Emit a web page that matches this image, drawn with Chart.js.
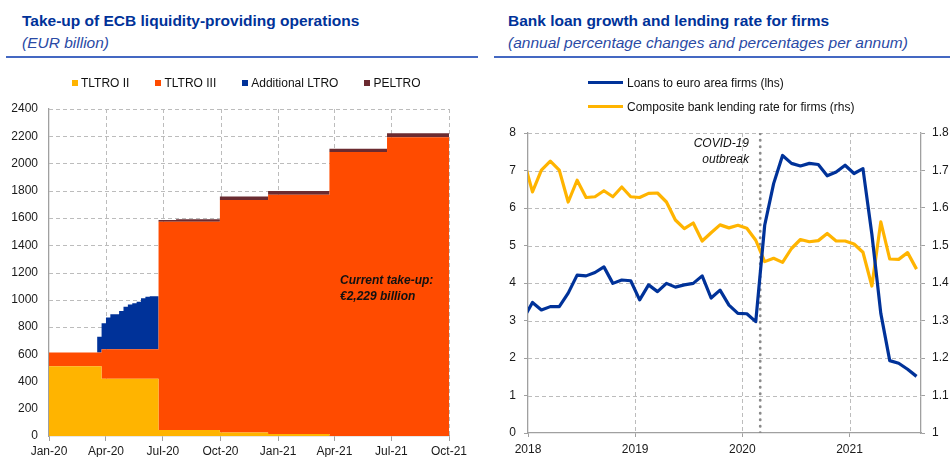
<!DOCTYPE html>
<html><head><meta charset="utf-8">
<script src="https://cdn.jsdelivr.net/npm/chart.js@4.4.1/dist/chart.umd.min.js"></script>
<style>
html,body{margin:0;padding:0;background:#fff}
body{position:relative;width:950px;height:457px;overflow:hidden;font-family:"Liberation Sans",Arial,Helvetica,sans-serif}
.abs{position:absolute;white-space:nowrap}
.title{font-weight:bold;font-size:15.5px;line-height:18px;color:#003299}
.sub{font-style:italic;font-size:15.5px;line-height:18px;color:#2a4aa5}
.rule{position:absolute;height:2px;background:#4468c2}
.lg{font-size:12px;line-height:14px;color:#111}
.sq{display:inline-block;width:6px;height:6px;margin-right:3px;vertical-align:1px}
.ln{display:inline-block;width:35px;height:3px;margin-right:4px;vertical-align:3px}
.note{font-size:12px;line-height:16px;color:#111;font-style:italic}
canvas{position:absolute}
</style></head><body>
<div class="abs title" style="left:22px;top:12px">Take-up of ECB liquidity-providing operations</div>
<div class="abs sub" style="left:22px;top:34px">(EUR billion)</div>
<div class="rule" style="left:6px;top:56px;width:472px"></div>
<div class="abs title" style="left:508px;top:12px">Bank loan growth and lending rate for firms</div>
<div class="abs sub" style="left:508px;top:34px">(annual percentage changes and percentages per annum)</div>
<div class="rule" style="left:494px;top:56px;width:456px"></div>
<canvas id="cL" width="478" height="395" style="left:0;top:62px"></canvas>
<canvas id="cR" width="472" height="395" style="left:478px;top:62px"></canvas>
<div id="legL" class="abs lg" style="left:72px;top:76px;display:flex;gap:26px"></div>
<div id="legR" class="abs lg" style="left:588px;top:76px"></div>
<div class="abs note" style="left:340px;top:272px;font-weight:bold">Current take-up:<br>€2,229 billion</div>
<div class="abs note" style="right:201px;top:135px;text-align:right">COVID-19<br>outbreak</div>
<script>
// ---------- Left chart data (EUR billion, outstanding after each settlement date) ----------
const stepDates = ['2020-01-01','2020-03-18','2020-03-25','2020-04-01','2020-04-08','2020-04-22','2020-04-29',
  '2020-05-06','2020-05-13','2020-05-20','2020-05-27','2020-06-03','2020-06-10','2020-06-24','2020-07-22',
  '2020-09-30','2020-12-16','2021-03-24','2021-06-24','2021-10-01'];
const tltroII  = [512,512,420,420,420,420,420,420,420,420,420,420,420,44,44,25,15,0,0,0];
const tltroIII = [100,100,216,216,216,216,216,216,216,216,216,216,216,1529,1529,1707,1756,2084,2192,2192];
const addLTRO  = [0,117,191,233,257,281,313,330,338,350,375,386,389,0,0,0,0,0,0,0];
const peltro   = [0,0,0,0,0,0,0,0,0,0,0,0,0,12,17,25,27,25,30,30];
const leftNames = ['TLTRO II','TLTRO III','Additional LTRO','PELTRO'];
const leftColors = ['#ffb400','#ff4b00','#003299','#6b2b30'];
const quarterDates = ['2020-01-01','2020-04-01','2020-07-01','2020-10-01','2021-01-01','2021-04-01','2021-07-01','2021-10-01'];
const quarterLabels = ['Jan-20','Apr-20','Jul-20','Oct-20','Jan-21','Apr-21','Jul-21','Oct-21'];
const leftYTicks = [0,200,400,600,800,1000,1200,1400,1600,1800,2000,2200,2400];

// ---------- Right chart data ----------
const months = ['2017-12',
  '2018-01','2018-02','2018-03','2018-04','2018-05','2018-06','2018-07','2018-08','2018-09','2018-10','2018-11','2018-12',
  '2019-01','2019-02','2019-03','2019-04','2019-05','2019-06','2019-07','2019-08','2019-09','2019-10','2019-11','2019-12',
  '2020-01','2020-02','2020-03','2020-04','2020-05','2020-06','2020-07','2020-08','2020-09','2020-10','2020-11','2020-12',
  '2021-01','2021-02','2021-03','2021-04','2021-05','2021-06','2021-07','2021-08'];
const loans = [3.05,
  3.48,3.28,3.37,3.37,3.73,4.21,4.19,4.28,4.43,3.99,4.08,4.06,
  3.55,3.95,3.77,3.99,3.89,3.95,3.99,4.19,3.60,3.81,3.41,3.19,
  3.18,2.97,5.54,6.65,7.40,7.19,7.12,7.19,7.16,6.86,6.96,7.14,
  6.92,7.05,5.30,3.19,1.93,1.86,1.70,1.51];
const lendingRate = [1.73,
  1.643,1.701,1.725,1.701,1.616,1.674,1.628,1.630,1.646,1.630,1.656,1.630,
  1.628,1.639,1.640,1.616,1.568,1.545,1.560,1.512,1.534,1.555,1.547,1.554,
  1.546,1.514,1.457,1.466,1.455,1.492,1.516,1.510,1.513,1.532,1.512,1.512,
  1.504,1.482,1.392,1.563,1.464,1.463,1.481,1.437];
const rightNames = ['Loans to euro area firms (lhs)','Composite bank lending rate for firms (rhs)'];
const rightColors = ['#003299','#ffb400'];
const yearLabels = ['2018','2019','2020','2021'];
const axisStart = '2018-01', axisEnd = '2021-09';
const covidMonth = '2020-03';
const lhsTicks = [0,1,2,3,4,5,6,7,8];
const rhsTicks = [1.0,1.1,1.2,1.3,1.4,1.5,1.6,1.7,1.8];

// ---------- helpers ----------
const dayOf = s => (Date.parse(s) - Date.parse('2020-01-01')) / 86400000;
const monthIdx = s => { const [y,m] = s.split('-').map(Number); return (y-2018)*12 + (m-1); };
const mid = s => monthIdx(s) + 0.5;

Chart.defaults.font.family = '"Liberation Sans", Arial, sans-serif';
Chart.defaults.font.size = 12;
Chart.defaults.color = '#1a1a1a';

const GRID = '#bcbcbc', AXIS = '#a0a0a0', DASH = [4,3];

// dashed grid lines drawn at the scales' own tick positions
const dashGrid = {
  id: 'dashGrid',
  beforeDatasetsDraw(chart, args, opts) {
    const {ctx, chartArea: a} = chart;
    ctx.save();
    ctx.strokeStyle = opts.color; ctx.lineWidth = 1; ctx.setLineDash(opts.dash);
    (opts.axes || []).forEach(id => {
      const s = chart.scales[id];
      s.ticks.forEach(t => {
        if (t.value === s.min) return; // axis line already there
        const p = Math.round(s.getPixelForValue(t.value)) + 0.5;
        ctx.beginPath();
        if (s.isHorizontal()) { ctx.moveTo(p, a.top); ctx.lineTo(p, a.bottom); }
        else { ctx.moveTo(a.left, p); ctx.lineTo(a.right, p); }
        ctx.stroke();
      });
    });
    ctx.restore();
  }
};

// ---------- Left chart ----------
const leftSeries = [tltroII, tltroIII, addLTRO, peltro];
new Chart(document.getElementById('cL'), {
  type: 'line',
  plugins: [dashGrid],
  data: {
    datasets: leftSeries.map((arr, k) => ({
      label: leftNames[k],
      data: stepDates.map((d, i) => ({x: dayOf(d), y: arr[i]})),
      backgroundColor: leftColors[k], borderColor: leftColors[k], borderWidth: 0,
      fill: k === 0 ? 'origin' : '-1', stepped: true, pointRadius: 0
    }))
  },
  options: {
    responsive: false, animation: false,
    layout: {padding: {top: 47, right: 29, left: 0, bottom: 0}},
    plugins: {legend: {display: false}, tooltip: {enabled: false},
              dashGrid: {axes: ['x', 'y'], color: GRID, dash: DASH}},
    scales: {
      x: {
        type: 'linear', min: dayOf(quarterDates[0]), max: dayOf(quarterDates[quarterDates.length-1]),
        afterBuildTicks: s => { s.ticks = quarterDates.map(d => ({value: dayOf(d)})); },
        ticks: {callback: (v, i) => quarterLabels[i], autoSkip: false, maxRotation: 0, padding: 3},
        grid: {drawOnChartArea: false, tickColor: AXIS, tickLength: 5},
        border: {color: AXIS, width: 1.3},
        afterFit: s => { s.height = 21; }
      },
      y: {
        stacked: true, min: 0, max: 2400,
        afterBuildTicks: s => { s.ticks = leftYTicks.map(v => ({value: v})); },
        ticks: {padding: 11, callback: v => String(v)},
        grid: {drawOnChartArea: false, drawTicks: false},
        border: {color: AXIS, width: 1.3},
        afterFit: s => { s.width = 49; }
      }
    }
  }
});

// ---------- Right chart ----------
new Chart(document.getElementById('cR'), {
  type: 'line',
  plugins: [dashGrid],
  data: {
    datasets: [
      {label: rightNames[0], data: months.map((m, i) => ({x: mid(m), y: loans[i]})), yAxisID: 'y',
       borderColor: rightColors[0], backgroundColor: rightColors[0], borderWidth: 3.2, pointRadius: 0,
       borderJoinStyle: 'round', clip: 0},
      {label: rightNames[1], data: months.map((m, i) => ({x: mid(m), y: lendingRate[i]})), yAxisID: 'y1',
       borderColor: rightColors[1], backgroundColor: rightColors[1], borderWidth: 3.2, pointRadius: 0,
       borderJoinStyle: 'round', clip: 0},
      {label: 'COVID-19 outbreak', data: [{x: monthIdx(covidMonth), y: lhsTicks[0]}, {x: monthIdx(covidMonth), y: lhsTicks[lhsTicks.length-1]}],
       yAxisID: 'y', borderColor: '#8a8a8a', borderWidth: 2.7, borderDash: [0.5, 6], borderCapStyle: 'round', pointRadius: 0}
    ]
  },
  options: {
    responsive: false, animation: false,
    layout: {padding: {top: 71, right: 0, left: 0, bottom: 0}},
    plugins: {legend: {display: false}, tooltip: {enabled: false},
              dashGrid: {axes: ['x', 'y'], color: GRID, dash: DASH}},
    scales: {
      x: {
        type: 'linear', min: monthIdx(axisStart), max: monthIdx(axisEnd),
        afterBuildTicks: s => { s.ticks = yearLabels.map(y => ({value: monthIdx(y + '-01')})); },
        ticks: {callback: (v, i) => yearLabels[i], autoSkip: false, maxRotation: 0, padding: 5},
        grid: {drawOnChartArea: false, tickColor: AXIS, tickLength: 4},
        border: {color: AXIS, width: 1.3},
        afterFit: s => { s.height = 24; }
      },
      y: {
        position: 'left', min: lhsTicks[0], max: lhsTicks[lhsTicks.length-1],
        afterBuildTicks: s => { s.ticks = lhsTicks.map(v => ({value: v})); },
        ticks: {padding: 8},
        grid: {drawOnChartArea: false, tickColor: AXIS, tickLength: 4},
        border: {color: AXIS, width: 1.3},
        afterFit: s => { s.width = 50; }
      },
      y1: {
        position: 'right', min: rhsTicks[0], max: rhsTicks[rhsTicks.length-1],
        afterBuildTicks: s => { s.ticks = rhsTicks.map(v => ({value: v})); },
        ticks: {padding: 7, callback: v => String(Number(v.toFixed(1)))},
        grid: {drawOnChartArea: false, tickColor: AXIS, tickLength: 4},
        border: {color: AXIS, width: 1.3},
        afterFit: s => { s.width = 29; }
      }
    }
  }
});

// ---------- Legends (HTML, built from the series names/colours) ----------
const legL = document.getElementById('legL');
leftNames.forEach((n, k) => {
  const it = document.createElement('span');
  it.innerHTML = '<span class="sq" style="background:' + leftColors[k] + '"></span>' + n;
  legL.appendChild(it);
});
const legR = document.getElementById('legR');
rightNames.forEach((n, k) => {
  const row = document.createElement('div');
  row.style.height = '24px';
  row.innerHTML = '<span class="ln" style="background:' + rightColors[k] + '"></span>' + n;
  legR.appendChild(row);
});
</script>
</body></html>
